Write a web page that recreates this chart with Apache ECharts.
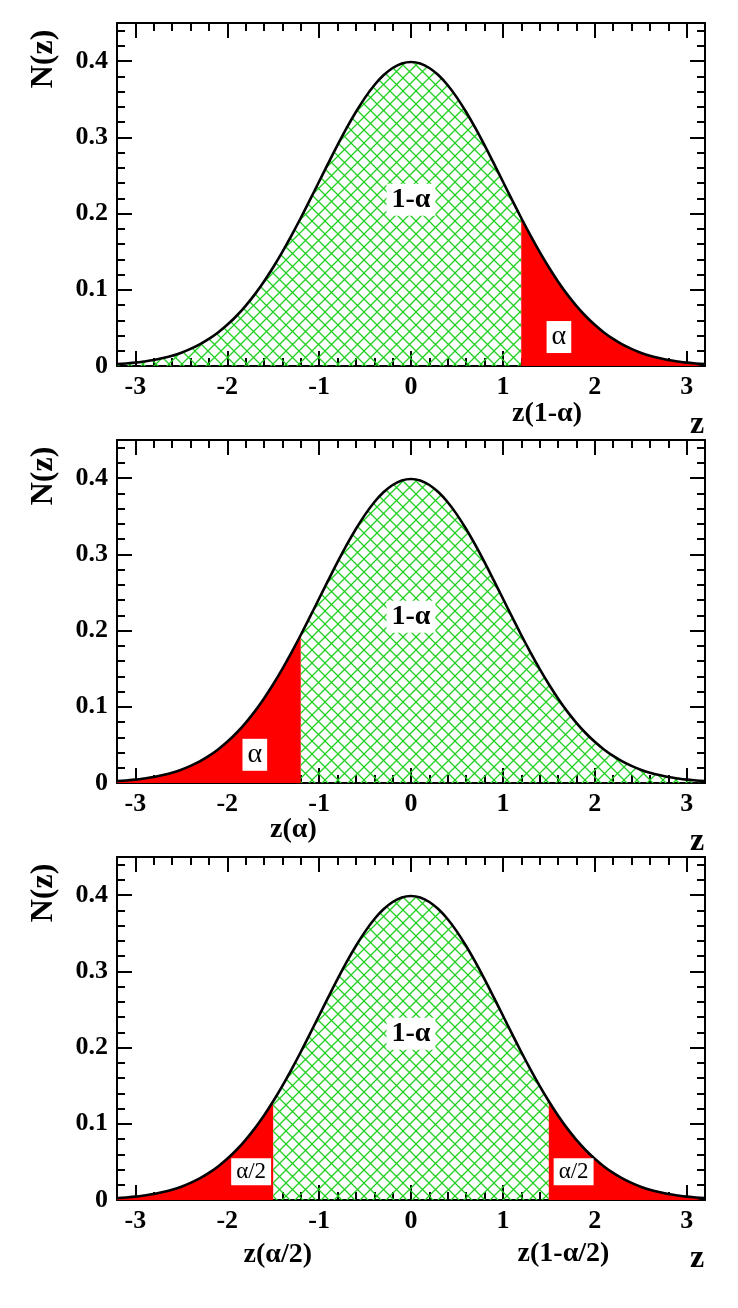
<!DOCTYPE html>
<html><head><meta charset="utf-8">
<script src="https://cdn.jsdelivr.net/npm/echarts@6/dist/echarts.min.js"></script>
<style>html,body{margin:0;padding:0;background:#fff}#c{width:738px;height:1308px}</style>
</head><body><div id="c"></div>
<script>
// ---- data ----
const zValues = [-3.2,-3.1,-3.0,-2.9,-2.8,-2.7,-2.6,-2.5,-2.4,-2.3,-2.2,-2.1,-2.0,-1.9,-1.8,-1.7,-1.6,-1.5,-1.4,-1.3,-1.2,-1.1,-1.0,-0.9,-0.8,-0.7,-0.6,-0.5,-0.4,-0.3,-0.2,-0.1,0.0,
  0.1,0.2,0.3,0.4,0.5,0.6,0.7,0.8,0.9,1.0,1.1,1.2,1.3,1.4,1.5,1.6,1.7,1.8,1.9,2.0,2.1,2.2,2.3,2.4,2.5,2.6,2.7,2.8,2.9,3.0,3.1,3.2];
const densityValues = [0.0024,0.0033,0.0044,0.0060,0.0079,0.0104,0.0136,0.0175,0.0224,0.0283,0.0355,0.0440,0.0540,0.0656,0.0790,0.0940,0.1109,0.1295,0.1497,0.1714,0.1942,0.2179,0.2420,0.2661,0.2897,0.3123,0.3332,0.3521,0.3683,0.3814,0.3910,0.3970,0.3989,
  0.3970,0.3910,0.3814,0.3683,0.3521,0.3332,0.3123,0.2897,0.2661,0.2420,0.2179,0.1942,0.1714,0.1497,0.1295,0.1109,0.0940,0.0790,0.0656,0.0540,0.0440,0.0355,0.0283,0.0224,0.0175,0.0136,0.0104,0.0079,0.0060,0.0044,0.0033,0.0024];
const xTickLabels = {'-3':'-3','-2':'-2','-1':'-1','0':'0','1':'1','2':'2','3':'3'};
const yTickLabels = {'0':'0','0.1':'0.1','0.2':'0.2','0.3':'0.3','0.4':'0.4'};
const panelCuts = [[1.2], [-1.2], [-1.5, 1.5]];
const panelFills = [['hatch','red'], ['red','hatch'], ['red','hatch','red']];
const centerLabels = [
  [{text:'1-α', z:0, n:0.218}],
  [{text:'1-α', z:0, n:0.218}],
  [{text:'1-α', z:0, n:0.218}]
];
const tailLabels = [
  [{text:'α', z:1.61, n:0.038}],
  [{text:'α', z:-1.70, n:0.037}],
  [{text:'α/2', z:-1.74, n:0.037}, {text:'α/2', z:1.77, n:0.037}]
];
const cutLabels = [
  [{text:'z(1-α)', z:1.48, n:-0.063}],
  [{text:'z(α)', z:-1.28, n:-0.062}],
  [{text:'z(α/2)', z:-1.45, n:-0.072}, {text:'z(1-α/2)', z:1.66, n:-0.071}]
];
const yTitle = 'N(z)';
const xTitle = 'z';

// ---- layout ----
const panelTops = [23, 440, 857];
const panelH = 343, gridLeft = 117, gridRight = 33;
const FONT = 'Liberation Serif';

function hatchCanvas() {
  const s = 13;
  const c = document.createElement('canvas');
  c.width = s; c.height = s;
  const g = c.getContext('2d');
  g.strokeStyle = '#22d022';
  g.lineWidth = 1.3;
  g.beginPath();
  g.moveTo(-2, -2); g.lineTo(s + 2, s + 2);
  g.moveTo(-2, s + 2); g.lineTo(s + 2, -2);
  g.stroke();
  return c;
}
const hatchPattern = { image: hatchCanvas(), repeat: 'repeat' };

const blackLine = { color: '#000', width: 2 };
const grids = [], xAxes = [], yAxes = [], series = [];

panelTops.forEach((top, p) => {
  grids.push({ left: gridLeft, right: gridRight, top: top, height: panelH });
  const xBase = { gridIndex: p, type: 'value', min: -3.2, max: 3.2, splitLine: { show: false } };
  const yBase = { gridIndex: p, type: 'value', min: 0, max: 0.45, splitLine: { show: false } };
  const lbl = { fontFamily: FONT, fontWeight: 'bold', fontSize: 26, color: '#000' };
  const noLine = { show: false, onZero: false };
  const frame = { show: true, onZero: false, lineStyle: blackLine };
  const major = { show: true, inside: true, length: 15, lineStyle: blackLine };
  const minor = { show: true, inside: true, length: 8, lineStyle: blackLine };
  xAxes.push(Object.assign({}, xBase, { position: 'bottom', axisLine: frame, axisTick: major,
    axisLabel: Object.assign({ show: true, margin: 8, showMinLabel: false, showMaxLabel: false,
      formatter: v => xTickLabels[String(Math.round(v * 10) / 10)] || '' }, lbl) }));
  xAxes.push(Object.assign({}, xBase, { position: 'bottom', interval: 0.2, axisLine: noLine, axisTick: minor, axisLabel: { show: false } }));
  xAxes.push(Object.assign({}, xBase, { position: 'top', axisLine: frame, axisTick: major, axisLabel: { show: false } }));
  xAxes.push(Object.assign({}, xBase, { position: 'top', interval: 0.2, axisLine: noLine, axisTick: minor, axisLabel: { show: false } }));
  yAxes.push(Object.assign({}, yBase, { position: 'left', interval: 0.1, axisLine: frame, axisTick: major,
    axisLabel: Object.assign({ show: true, margin: 9, showMaxLabel: false,
      formatter: v => yTickLabels[String(Math.round(v * 10) / 10)] || '' }, lbl) }));
  yAxes.push(Object.assign({}, yBase, { position: 'left', interval: 0.02, axisLine: noLine, axisTick: minor, axisLabel: { show: false } }));
  yAxes.push(Object.assign({}, yBase, { position: 'right', interval: 0.1, axisLine: frame, axisTick: major, axisLabel: { show: false } }));
  yAxes.push(Object.assign({}, yBase, { position: 'right', interval: 0.02, axisLine: noLine, axisTick: minor, axisLabel: { show: false } }));

  const xi = 4 * p, yi = 4 * p;
  const pts = zValues.map((z, i) => [z, densityValues[i]]);
  const bounds = [-3.2].concat(panelCuts[p]).concat([3.2]);
  panelFills[p].forEach((fill, r) => {
    const a = bounds[r] - 1e-6, b = bounds[r + 1] + 1e-6;
    series.push({ type: 'line', xAxisIndex: xi, yAxisIndex: yi, data: pts.filter(d => d[0] >= a && d[0] <= b),
      smooth: 0.4, symbol: 'none', lineStyle: { width: 0, opacity: 0 }, z: 1,
      areaStyle: { color: fill === 'red' ? '#ff0000' : hatchPattern, opacity: 1 } });
  });
  series.push({ type: 'line', xAxisIndex: xi, yAxisIndex: yi, data: pts, smooth: 0.4, symbol: 'none', z: 3,
    lineStyle: { color: '#000', width: 2.6 } });
  const boxLabel = (fs, bold) => ({ show: true, position: 'inside', formatter: '{b}', fontFamily: FONT, opacity: 1,
    fontSize: fs, fontWeight: bold ? 'bold' : 'normal', color: '#000', backgroundColor: '#fff', padding: [3, 5, 1, 5] });
  const mk = (arr) => arr.map(o => ({ name: o.text, value: [o.z, o.n] }));
  const scat = { type: 'scatter', symbolSize: 0, clip: false, z: 5, silent: true, itemStyle: { opacity: 1 },
    emphasis: { disabled: true } };
  series.push(Object.assign({}, scat, { xAxisIndex: xi, yAxisIndex: yi, data: mk(centerLabels[p]), label: boxLabel(28, true) }));
  series.push(Object.assign({}, scat, { xAxisIndex: xi, yAxisIndex: yi, data: mk(tailLabels[p]), label: boxLabel(p === 2 ? 23 : 28, false) }));
  series.push(Object.assign({}, scat, { xAxisIndex: xi, yAxisIndex: yi, data: mk(cutLabels[p]),
    label: { show: true, position: 'inside', formatter: '{b}', fontFamily: FONT, opacity: 1,
      fontSize: 28, fontWeight: 'bold', color: '#000' } }));
});

const graphic = [];
panelTops.forEach(top => {
  graphic.push({ type: 'text', x: 44, y: top + 36, rotation: Math.PI / 2,
    style: { text: yTitle, fontFamily: FONT, fontWeight: 'bold', fontSize: 32, fill: '#000', align: 'center', verticalAlign: 'middle' } });
  graphic.push({ type: 'text', x: 697, y: top + panelH + 59,
    style: { text: xTitle, fontFamily: FONT, fontWeight: 'bold', fontSize: 32, fill: '#000', align: 'center', verticalAlign: 'middle' } });
});

const chart = echarts.init(document.getElementById('c'), null, { renderer: 'canvas' });
chart.setOption({
  animation: false,
  backgroundColor: '#fff',
  grid: grids, xAxis: xAxes, yAxis: yAxes, series: series, graphic: graphic
});
</script></body></html>
